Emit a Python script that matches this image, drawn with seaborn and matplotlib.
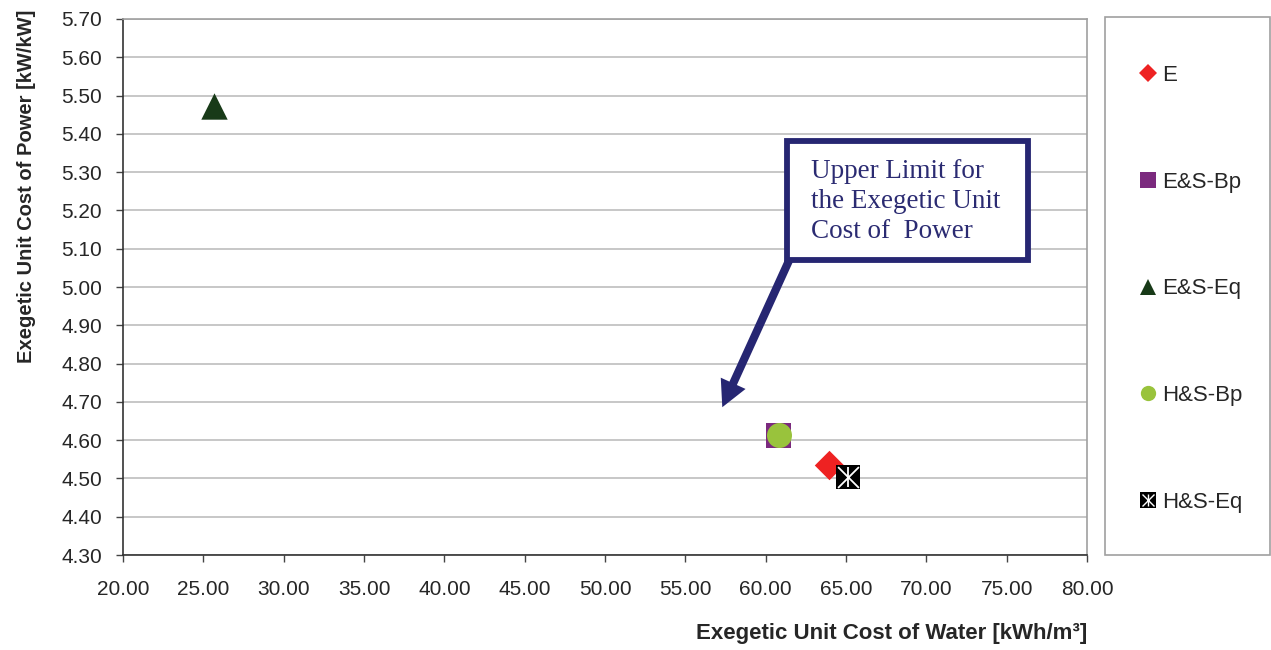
import matplotlib
matplotlib.use("Agg")
import matplotlib.pyplot as plt
import seaborn as sns
import pandas as pd
from matplotlib.lines import Line2D
from matplotlib.patches import Rectangle, FancyArrowPatch
from matplotlib.legend_handler import HandlerTuple

# ---- data ----
series = ["E", "E&S-Bp", "E&S-Eq", "H&S-Bp", "H&S-Eq"]
water_cost = [63.94, 60.77, 25.66, 60.83, 65.12]
power_cost = [4.535, 4.613, 5.473, 4.613, 4.504]
x_ticks = [20, 25, 30, 35, 40, 45, 50, 55, 60, 65, 70, 75, 80]
y_ticks = [4.30, 4.40, 4.50, 4.60, 4.70, 4.80, 4.90, 5.00, 5.10, 5.20, 5.30, 5.40, 5.50, 5.60, 5.70]
annotation_text = "Upper Limit for\nthe Exegetic Unit\nCost of  Power"

colors = {"E": "#EE2222", "E&S-Bp": "#7B2A7E", "E&S-Eq": "#183A18",
          "H&S-Bp": "#99C33C", "H&S-Eq": "#000000"}
markers = {"E": "D", "E&S-Bp": "s", "E&S-Eq": "^", "H&S-Bp": "o", "H&S-Eq": "s"}
sizes = {"E": 15, "E&S-Bp": 18, "E&S-Eq": 19, "H&S-Bp": 18, "H&S-Eq": 17}
draw_order = ["E&S-Eq", "E&S-Bp", "H&S-Bp", "E", "H&S-Eq"]

df = pd.DataFrame({"series": series, "water": water_cost, "power": power_cost})

sns.set_style("white")
plt.rcParams["font.family"] = ["Liberation Sans", "DejaVu Sans"]

fig = plt.figure(figsize=(12.71, 6.5), dpi=100)
ax = fig.add_axes([123 / 1271, 1 - 555 / 650, (1087 - 123) / 1271, (555 - 19) / 650])

for name in draw_order:
    sub = df[df["series"] == name]
    sns.scatterplot(data=sub, x="water", y="power", marker=markers[name],
                    color=colors[name], s=sizes[name] ** 2, linewidth=0,
                    ax=ax, legend=False, zorder=3)
# white asterisk on H&S-Eq
sub = df[df["series"] == "H&S-Eq"]
for m in ["x", "|"]:
    sns.scatterplot(data=sub, x="water", y="power", marker=m, color="white",
                    s=15 ** 2, linewidth=1.3, ax=ax, legend=False, zorder=4)

ax.set_xlim(20, 80)
ax.set_ylim(4.30, 5.70)
ax.set_xticks(x_ticks)
ax.set_yticks(y_ticks)
ax.set_xticklabels([f"{v:.2f}" for v in x_ticks], fontsize=15)
ax.set_yticklabels([f"{v:.2f}" for v in y_ticks], fontsize=15)
ax.yaxis.grid(True, color="#BDBDBD", linewidth=1.2)
ax.xaxis.grid(False)
ax.set_axisbelow(True)
ax.tick_params(axis="both", direction="out", length=5, width=1, color="#444444",
               left=True, bottom=True)
ax.tick_params(axis="y", pad=10)
ax.tick_params(axis="x", pad=13)
for s in ["left", "bottom"]:
    ax.spines[s].set_color("#333333")
    ax.spines[s].set_linewidth(1.2)
for s in ["top", "right"]:
    ax.spines[s].set_color("#A0A0A0")
    ax.spines[s].set_linewidth(1.2)

ax.set_xlabel("Exegetic Unit Cost of Water [kWh/m³]", fontsize=16, fontweight="bold",
              loc="right", labelpad=17)
ax.set_ylabel("Exegetic Unit Cost of Power [kW/kW]", fontsize=14.5, fontweight="bold",
              loc="top", labelpad=18)
ax.yaxis.label.set_y(1.018)

# annotation box + arrow
ax.add_patch(Rectangle((61.33, 5.070), 76.33 - 61.33, 5.381 - 5.070,
                       facecolor="white", edgecolor="#262672", linewidth=4.2,
                       zorder=6))
ax.text(62.8, 5.335, annotation_text, fontsize=19.5, color="#2B2B72",
        family=["Liberation Serif", "DejaVu Serif"], va="top", ha="left",
        linespacing=1.27, zorder=7)
arrow = FancyArrowPatch((61.55, 5.078), (57.30, 4.686),
                        arrowstyle="simple,head_length=1.35,head_width=1.4,tail_width=0.42",
                        mutation_scale=14, facecolor="#262672", edgecolor="none",
                        shrinkA=0, shrinkB=0, zorder=5)
ax.add_patch(arrow)

# legend box
fig.patches.append(Rectangle((1105 / 1271, 1 - 555 / 650), (1270 - 1105) / 1271,
                             (555 - 17) / 650, transform=fig.transFigure,
                             facecolor="white", edgecolor="#A0A0A0", linewidth=1.2))
handles = []
for name in series:
    h = Line2D([], [], linestyle="none", marker=markers[name],
               color=colors[name], markersize=(9 if name == "E" else 11),
               markeredgewidth=0)
    if name == "H&S-Eq":
        hx = Line2D([], [], linestyle="none", marker="x", color="white",
                    markersize=9, markeredgewidth=1)
        hv = Line2D([], [], linestyle="none", marker="|", color="white",
                    markersize=9, markeredgewidth=1)
        h = (h, hx, hv)
    handles.append(h)
leg = fig.legend(handles, series, loc="upper left",
                 bbox_to_anchor=(1132 / 1271, 1 - 56 / 650), frameon=False,
                 fontsize=16, labelspacing=3.86, handlelength=0.65,
                 handletextpad=0.3, borderaxespad=0,
                 handler_map={tuple: HandlerTuple(ndivide=1)})

fig.savefig("out.png", dpi=100)
